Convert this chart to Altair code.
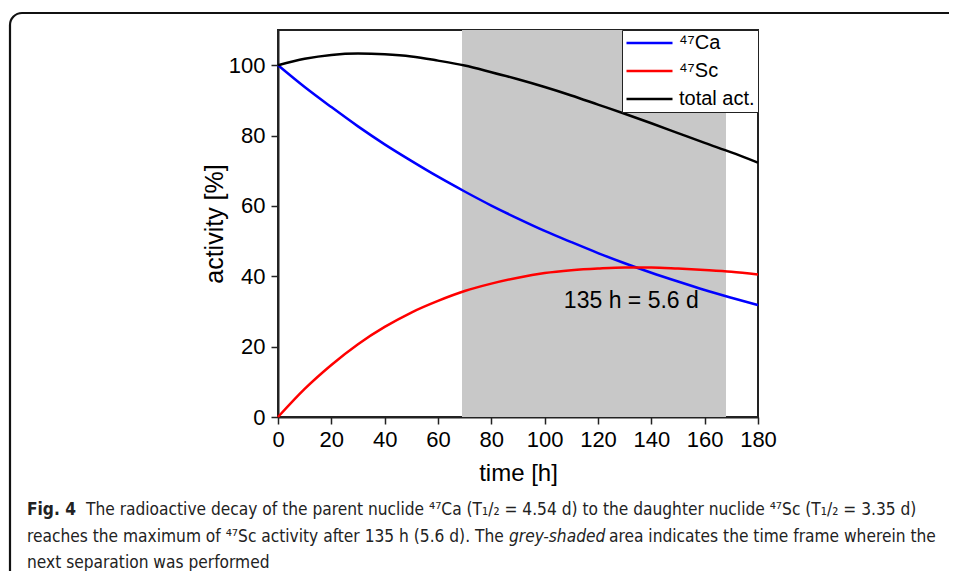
import altair as alt
import pandas as pd

# ---- data ----
times = [0, 10, 20, 30, 40, 50, 60, 70, 80, 90, 100, 110, 120, 130, 140, 150, 160, 170, 180]
ca47 = [100, 93.8, 88.1, 82.6, 77.5, 72.8, 68.3, 64.1, 60.1, 56.4, 52.9, 49.7, 46.6, 43.7, 41.0, 38.5, 36.1, 33.9, 31.8]
sc47 = [0, 8.0, 14.8, 20.7, 25.6, 29.7, 33.0, 35.8, 37.9, 39.6, 40.9, 41.7, 42.2, 42.5, 42.5, 42.2, 41.8, 41.3, 40.5]
total = [100, 101.8, 102.9, 103.3, 103.1, 102.5, 101.3, 99.9, 98.0, 96.0, 93.8, 91.4, 88.8, 86.2, 83.5, 80.7, 77.9, 75.2, 72.3]
series_names = ["\u2074\u2077Ca", "\u2074\u2077Sc", "total act."]
series_colors = ["#0000FF", "#FF0000", "#000000"]
shade_start, shade_end = [69], [168]
annot_x, annot_y, annot_text = [132.5], [33], ["135 h = 5.6 d"]
x_ticks = list(range(0, 181, 10))
y_ticks = list(range(0, 111, 10))

caption_fig = "Fig. 4"
caption_line1 = ("The radioactive decay of the parent nuclide \u2074\u2077Ca (T\u2081/\u2082 = 4.54 d) "
                 "to the daughter nuclide \u2074\u2077Sc (T\u2081/\u2082 = 3.35 d)")
caption_line2a = "reaches the maximum of \u2074\u2077Sc activity after 135 h (5.6 d). The"
caption_line2b = "grey-shaded"
caption_line2c = "area indicates the time frame wherein the"
caption_line3 = "next separation was performed"

rows = []
for name, vals in zip(series_names, [ca47, sc47, total]):
    for t, v in zip(times, vals):
        rows.append({"time": t, "activity": v, "series": name})
df = pd.DataFrame(rows)

FONT = "Liberation Sans, Arial, sans-serif"
CAPFONT = "Liberation Sans Narrow, DejaVu Sans Condensed, Open Sans, sans-serif"

xs = alt.Scale(domain=[0, 180], nice=False, zero=False)
ys = alt.Scale(domain=[0, 110], nice=False)

shade = alt.Chart(pd.DataFrame({"s": shade_start, "e": shade_end})).mark_rect(
    color="#C8C8C8").encode(
    x=alt.X("s:Q", scale=xs), x2="e:Q",
    y=alt.value(0), y2=alt.value(387))

lines = alt.Chart(df).mark_line(strokeWidth=2.5, interpolate="monotone").encode(
    x=alt.X("time:Q", scale=xs, title="time [h]",
            axis=alt.Axis(values=x_ticks,
                          labelExpr="datum.value % 20 === 0 ? datum.label : ''",
                          tickSize={"condition": {"test": "datum.value % 20 === 0", "value": 7}, "value": 4},
                          grid=False, labelFontSize=22, titleFontSize=24, labelFont=FONT, titleFont=FONT,
                          titleFontWeight="normal", labelColor="black", titleColor="black",
                          domainColor="#222", tickColor="#222", domainWidth=2, tickWidth=1.5,
                          labelPadding=5, titlePadding=11, labelFlush=False)),
    y=alt.Y("activity:Q", scale=ys, title="activity [%]",
            axis=alt.Axis(values=y_ticks,
                          labelExpr="datum.value % 20 === 0 && datum.value <= 100 ? datum.label : ''",
                          tickSize={"condition": {"test": "datum.value % 20 === 0", "value": 7}, "value": 4},
                          grid=False, labelFontSize=22, titleFontSize=25, labelFont=FONT, titleFont=FONT,
                          titleFontWeight="normal", labelColor="black", titleColor="black",
                          domainColor="#222", tickColor="#222", domainWidth=2, tickWidth=1.5,
                          labelPadding=6, titlePadding=1, labelFlush=False)),
    color=alt.Color("series:N", scale=alt.Scale(domain=series_names, range=series_colors),
                    sort=series_names,
                    legend=alt.Legend(title=None, orient="top-right", offset=0,
                                      strokeColor="#222", fillColor="white", padding=3,
                                      symbolType="stroke", symbolSize=2116, symbolStrokeWidth=2.5,
                                      labelFontSize=20, labelFont=FONT, labelColor="black",
                                      clipHeight=20, rowPadding=8, labelOffset=5)),
)

annot = alt.Chart(pd.DataFrame({"x": annot_x, "y": annot_y, "t": annot_text})).mark_text(
    fontSize=23, font=FONT, color="black").encode(
    x=alt.X("x:Q", scale=xs), y=alt.Y("y:Q", scale=ys), text="t:N")

one = pd.DataFrame({"a": [0]})
border = alt.Chart(one).mark_rect(filled=False, stroke="#111", strokeWidth=2.2, cornerRadius=12).encode(
    x=alt.value(-268), x2=alt.value(760), y=alt.value(-17), y2=alt.value(620))

def cap(text, x, y, **kw):
    return alt.Chart(one).mark_text(align="left", baseline="alphabetic", font=CAPFONT,
                                    fontSize=17.2, color="#222", **kw).encode(
        x=alt.value(x), y=alt.value(y), text=alt.value(text))

captions = (cap(caption_fig, -251, 485, fontWeight="bold")
            + cap(caption_line1, -192, 485)
            + cap(caption_line2a, -251, 512)
            + cap(caption_line2b, 231, 512, fontStyle="italic")
            + cap(caption_line2c, 331, 512)
            + cap(caption_line3, -251, 538))

chart = alt.layer(shade, lines, annot, border, captions).properties(
    width=480, height=387,
    autosize=alt.AutoSizeParams(type="none"),
    padding={"left": 270, "top": 22, "right": 191, "bottom": 154},
).configure_view(stroke="#222", strokeWidth=2)

chart.save("out.html", embed_options={"renderer": "svg", "actions": False})
